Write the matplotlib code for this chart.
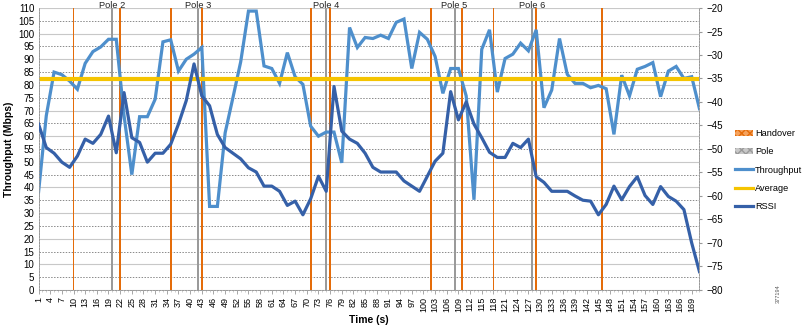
import matplotlib
matplotlib.use("Agg")
import matplotlib.pyplot as plt
from matplotlib.patches import Patch
from matplotlib.lines import Line2D

plt.rcParams['font.family'] = ['Liberation Sans', 'DejaVu Sans']

# samples every 2 s
time = list(range(1, 172, 2))

throughput = [38, 68, 85, 84, 81.5, 78.3, 88.4, 93, 94.8, 97.8,
              97.8, 68, 45, 67.6, 67.6, 74.4, 96.8, 97.6, 85.4, 90,
              92, 94.6, 32.6, 32.6, 61.3, 75, 89, 108.8, 108.8, 87.4,
              86.4, 80.6, 92.6, 83.2, 80.2, 63.9, 60, 61.6, 61.6, 49.6,
              102.4, 94.6, 98.5, 98.1, 99.4, 98.1, 104.4, 105.7, 86.4, 100.5,
              97.8, 91.1, 76.7, 86.4, 86.4, 75.7, 35.2, 93.9, 101.5, 77.2,
              90.3, 92, 96.3, 93.3, 101.5, 71.1, 78, 98.1, 84.1, 80.6,
              80.6, 78.9, 79.8, 78.5, 60.7, 83.8, 75.7, 86.1, 87.2, 88.7,
              75.4, 85.4, 87.2, 82.5, 83.2, 70.7]

rssi = [-44.7, -49.7, -50.9, -52.8, -53.9, -51.5, -47.9, -48.8, -46.9, -43,
        -50.8, -38, -47.6, -48.6, -52.8, -50.9, -50.9, -49, -44.7, -39.7,
        -31.9, -38.7, -40.8, -46.9, -49.7, -50.9, -52.1, -54, -54.9, -57.9,
        -57.9, -59, -62, -61.1, -64, -60.6, -55.8, -59, -36.7, -46.2,
        -47.9, -48.8, -50.9, -53.9, -54.9, -54.9, -54.9, -56.8, -57.9, -59,
        -55.8, -52.6, -50.9, -37.8, -43.8, -40, -44.7, -47.6, -50.7, -51.8,
        -51.8, -48.8, -49.7, -47.9, -55.9, -57.1, -59, -59, -59, -60,
        -60.9, -61.1, -64, -61.8, -57.9, -60.8, -58, -55.9, -59.9, -61.8,
        -58, -60.1, -61.1, -62.9, -70, -76.1]

average = 82.2
handover = [10, 22, 35, 43, 71, 76, 102, 110, 118, 129, 146]
poles = [20, 42, 75, 108, 128]
pole_names = ["Pole 2", "Pole 3", "Pole 4", "Pole 5", "Pole 6"]
bar_top = 110

c_hand = '#E46C0A'
c_pole = '#9A9A9A'
c_tp = '#4E8FCC'
c_avg = '#F5C400'
c_rssi = '#3560A8'

fig = plt.figure(figsize=(8.04, 3.28), dpi=100)
ax = fig.add_axes([0.0479, 0.1159, 0.8221, 0.8597])
ax2 = ax.twinx()

ax.bar(handover, [bar_top] * len(handover), width=0.45, color=c_hand, zorder=2)
ax.bar(poles, [bar_top] * len(poles), width=0.5, color=c_pole, zorder=2)
for p, name in zip(poles, pole_names):
    ax.text(p, bar_top + 2.9, name, ha='center', va='top', fontsize=6.7,
            color='#222222', clip_on=False)

ax.plot(time, throughput, color=c_tp, lw=2.3, zorder=3, solid_joinstyle='miter')
ax.plot([1, 171], [average, average], color=c_avg, lw=3, zorder=4)
ax2.plot(time, rssi, color=c_rssi, lw=2.3, zorder=5)

ax.set_xlim(1, 171)
ax.set_ylim(0, 110)
ax2.set_ylim(-80, -20)
ax.set_yticks(range(0, 111, 5))
ax2.set_yticks(range(-80, -19, 5))
ax.set_xticks(range(1, 171, 3))
ax.set_xticks(range(1, 172), minor=True)
ax.tick_params(axis='x', labelrotation=90, labelsize=6.5, length=3, width=0.6,
               color='#999999', pad=2)
ax.tick_params(axis='x', which='minor', length=1.5, width=0.5, color='#bbbbbb')
ax.tick_params(axis='y', labelsize=7, length=0, pad=3)
ax2.tick_params(axis='y', labelsize=7, length=2, color='#999999', pad=3)

for v in ax.get_yticks():
    if v % 10 == 0:
        ax.axhline(v, color='#C8C8C8', lw=0.8, zorder=1)
    else:
        ax.axhline(v, color='#8A8A8A', lw=0.7, ls=(0, (1.5, 1.5)), zorder=1)

for a in (ax, ax2):
    a.spines['top'].set_visible(False)
    for s in ('left', 'right', 'bottom'):
        a.spines[s].set_color('#9A9A9A')
        a.spines[s].set_linewidth(0.7)
        a.spines[s].set_linestyle((0, (1.5, 1.5)))

ax.set_xlabel("Time (s)", fontsize=7.5, fontweight='bold', labelpad=2)
ax.set_ylabel("Throughput (Mbps)", fontsize=7.5, fontweight='bold', labelpad=3)

handles = [Patch(facecolor='#F5A25D', edgecolor=c_hand, hatch='xxxx', lw=0),
           Patch(facecolor='#C8C8C8', edgecolor='#9A9A9A', hatch='xxxx', lw=0),
           Line2D([], [], color=c_tp, lw=2.3),
           Line2D([], [], color=c_avg, lw=2.3),
           Line2D([], [], color=c_rssi, lw=2.3)]
labels = ["Handover", "Pole", "Throughput", "Average", "RSSI"]
fig.legend(handles, labels, loc='upper left', bbox_to_anchor=(0.908, 0.62),
           frameon=False, fontsize=6.6, handlelength=2.0, handleheight=0.7,
           handletextpad=0.2, labelspacing=1.0, borderpad=0)

fig.text(0.968, 0.075, "377194", rotation=90, fontsize=4, color='#555555',
         ha='center', va='bottom')

fig.savefig("out.png", dpi=100)
